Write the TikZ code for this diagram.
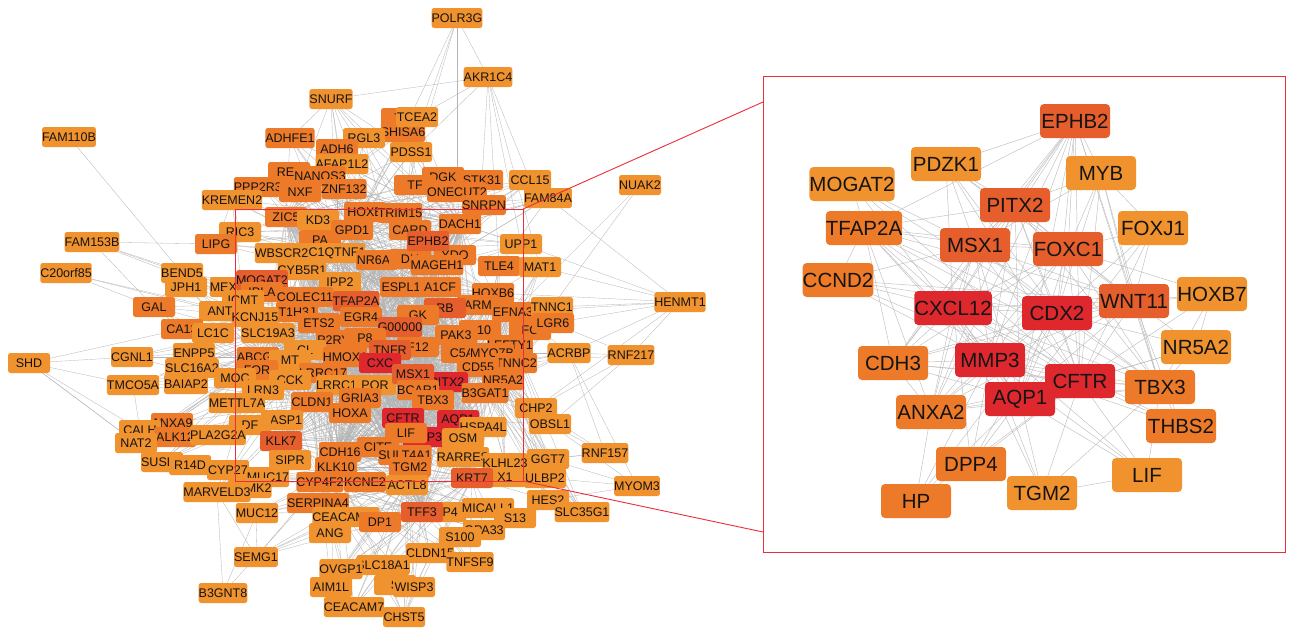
\documentclass[tikz,border=0pt]{standalone}
\usepackage{fontspec}
\setmainfont{Liberation Sans}
\pgfdeclarelayer{bg}
\pgfdeclarelayer{edges}
\pgfsetlayers{bg,edges,main}
\definecolor{oA}{RGB}{240,146,46}
\definecolor{oB}{RGB}{236,122,40}
\definecolor{oC}{RGB}{229,94,44}
\definecolor{oD}{RGB}{222,40,46}
\definecolor{edgegray}{RGB}{180,180,180}
\definecolor{zred}{RGB}{235,45,60}
\definecolor{txt}{RGB}{20,20,20}
\tikzset{
 lbox/.style={rounded corners=2.5pt, minimum width=42pt, minimum height=20pt, inner sep=0pt, text=txt, font=\fontsize{12.5}{13}\selectfont},
 nA/.style={lbox, fill=oA}, nB/.style={lbox, fill=oB}, nC/.style={lbox, fill=oC}, nD/.style={lbox, fill=oD},
 rbox/.style={rounded corners=4pt, minimum width=70pt, minimum height=34pt, inner sep=0pt, text=txt, font=\fontsize{20.5}{21}\selectfont},
 rA/.style={rbox, fill=oA}, rB/.style={rbox, fill=oB}, rC/.style={rbox, fill=oC}, rD/.style={rbox, fill=oD},
 ed/.style={draw=edgegray, line width=0.3pt},
 red2/.style={draw=edgegray!85, line width=0.45pt},
 zline/.style={draw=zred, line width=0.9pt},
 zframe/.style={minimum width=#1, inner sep=0pt}
}
\begin{document}
\begin{tikzpicture}[x=1pt,y=-1pt]
\useasboundingbox (0,0) rectangle (1289,630);
\begin{pgfonlayer}{bg}\fill[white] (0,0) rectangle (1289,630);\end{pgfonlayer}
% ---------------- left network nodes ----------------
\node[nA] (POLR3G) at (457,18) {POLR3G};
\node[nA] (AKR1C4) at (488,77) {AKR1C4};
\node[nA] (SNURF) at (331,99) {SNURF};
\node[nA] (FAM110B) at (69,137) {FAM110B};
\node[nB] (e1) at (402,118) {TF};
\node[nB] (SHISA6) at (403,132) {SHISA6};
\node[nA] (TCEA2) at (417,117) {TCEA2};
\node[nB] (ADHFE1) at (290,138) {ADHFE1};
\node[nA] (RGL3) at (364,138) {RGL3};
\node[nB] (ADH6) at (337,149) {ADH6};
\node[nA] (PDSS1) at (411,152) {PDSS1};
\node[nA] (AFAP1L2) at (342,164) {AFAP1L2};
\node[nB] (REL) at (289,172) {REL};
\node[nB] (NANOS3) at (320,176) {NANOS3};
\node[nB] (DGK) at (443,177) {DGK};
\node[nB] (STK31) at (482,180) {STK31};
\node[nA] (CCL15) at (530,180) {CCL15};
\node[nA] (NUAK2) at (640,185) {NUAK2};
\node[nB] (PPP2R3A) at (262,187) {PPP2R3A};
\node[nB] (TF) at (415,185) {TF};
\node[nB] (NXF) at (300,192) {NXF};
\node[nB] (ZNF132) at (344,189) {ZNF132};
\node[nB] (ONECUT2) at (457,192) {ONECUT2};
\node[nA] (KREMEN2) at (232,200) {KREMEN2};
\node[nB] (SNRPN) at (484,205) {SNRPN};
\node[nA] (FAM84A) at (548,198) {FAM84A};
\node[nB] (e2) at (365,212) {HOXB};
\node[nB] (TRIM15) at (400,213) {TRIM15};
\node[nB] (ZIC5) at (286,217) {ZIC5};
\node[nA] (e3) at (318,220) {KD3};
\node[nB] (DACH1) at (460,224) {DACH1};
\node[nA] (RIC3) at (240,232) {RIC3};
\node[nA] (FAM153B) at (92,242) {FAM153B};
\node[nB] (LIPG) at (216,244) {LIPG};
\node[nA] (UPP1) at (521,244) {UPP1};
\node[nB] (e4) at (320,240) {PA};
\node[nB] (GPD1) at (352,230) {GPD1};
\node[nB] (CARD) at (410,230) {CARD};
\node[nA] (WBSCR22) at (285,253) {WBSCR22};
\node[nA] (C1QTNF1) at (337,253) {C1QTNF1};
\node[nB] (e5) at (455,255) {YDO};
\node[nB] (NR6A1) at (377,260) {NR6A1};
\node[nB] (e6) at (410,259) {DH};
\node[nB] (MAGEH1) at (437,265) {MAGEH1};
\node[nB] (TLE4) at (499,266) {TLE4};
\node[nA] (MAT1) at (540,267) {MAT1};
\node[nA] (CYB5R1) at (302,270) {CYB5R1};
\node[nA] (C20orf85) at (66,273) {C20orf85};
\node[nA] (BEND5) at (182,273) {BEND5};
\node[nA] (JPH1) at (186,287) {JPH1};
\node[nA] (MEX3A) at (231,287) {MEX3A};
\node[nC] (MOGAT2) at (262,280) {MOGAT2};
\node[nA] (e7) at (340,282) {IPP2};
\node[nB] (ESPL1) at (401,287) {ESPL1};
\node[nB] (A1CF) at (440,287) {A1CF};
\node[nB] (e8) at (262,292) {IPLA};
\node[nB] (HOXB6) at (493,293) {HOXB6};
\node[nB] (COLEC11) at (305,297) {COLEC11};
\node[nA] (ICMT) at (243,300) {ICMT};
\node[nC] (TFAP2A) at (356,301) {TFAP2A};
\node[nB] (e9) at (478,305) {ARM};
\node[nC] (e10) at (445,308) {RB};
\node[nA] (HENMT1) at (680,302) {HENMT1};
\node[nB] (EFNA3) at (513,312) {EFNA3};
\node[nA] (TNNC1) at (552,307) {TNNC1};
\node[nB] (GAL) at (154,307) {GAL};
\node[nA] (ANT) at (220,311) {ANT};
\node[nB] (e11) at (297,312) {T1H3J};
\node[nB] (GK) at (418,315) {GK};
\node[nB] (EGR4) at (361,317) {EGR4};
\node[nA] (KCNJ15) at (255,317) {KCNJ15};
\node[nB] (e12) at (530,330) {FC};
\node[nB] (ETS2) at (319,323) {ETS2};
\node[nC] (e13) at (400,327) {G00000};
\node[nB] (LGR6) at (553,323) {LGR6};
\node[nB] (CA13) at (182,329) {CA13};
\node[nA] (e14) at (213,333) {LC1C};
\node[nB] (e15) at (480,330) {A10};
\node[nA] (SLC19A3) at (268,333) {SLC19A3};
\node[nB] (PAK3) at (456,335) {PAK3};
\node[nB] (P2RY2) at (337,340) {P2RY2};
\node[nB] (P8) at (365,338) {P8};
\node[nB] (LEFTY1) at (510,345) {LEFTY1};
\node[nB] (F12) at (418,347) {F12};
\node[nC] (e16) at (390,350) {TNFR};
\node[nA] (e17) at (305,350) {CL};
\node[nA] (ENPP5) at (194,353) {ENPP5};
\node[nB] (e18) at (462,353) {C5A};
\node[nB] (MYO7B) at (492,353) {MYO7B};
\node[nA] (ACRBP) at (569,353) {ACRBP};
\node[nA] (RNF217) at (631,355) {RNF217};
\node[nB] (ABCG5) at (258,357) {ABCG5};
\node[nB] (HMOX1) at (345,357) {HMOX1};
\node[nA] (CGNL1) at (132,357) {CGNL1};
\node[nA] (e19) at (290,360) {MT};
\node[nA] (SHD) at (29,363) {SHD};
\node[nD] (e20) at (380,363) {CXC};
\node[nB] (TNNC2) at (516,363) {TNNC2};
\node[nB] (CD55) at (478,367) {CD55};
\node[nA] (BAIAP2) at (186,384) {BAIAP2};
\node[nA] (SLC16A2) at (192,368) {SLC16A2};
\node[nD] (PITX2) at (447,382) {PITX2};
\node[nB] (e21) at (257,370) {FOR};
\node[nB] (LRRC17) at (323,373) {LRRC17};
\node[nA] (e22) at (235,378) {MOC};
\node[nA] (e23) at (290,380) {CCK};
\node[nB] (NR5A2) at (503,380) {NR5A2};
\node[nA] (TMCO5A) at (133,385) {TMCO5A};
\node[nA] (LRRC19) at (340,385) {LRRC19};
\node[nA] (POR) at (375,385) {POR};
\node[nC] (MSX1) at (413,374) {MSX1};
\node[nB] (BCAR1) at (418,390) {BCAR1};
\node[nA] (e24) at (263,390) {LRN3};
\node[nB] (B3GAT1) at (485,393) {B3GAT1};
\node[nB] (GRIA3) at (360,398) {GRIA3};
\node[nB] (TBX3) at (433,400) {TBX3};
\node[nB] (CLDN1) at (312,402) {CLDN1};
\node[nA] (METTL7A) at (237,403) {METTL7A};
\node[nB] (e25) at (350,413) {HOXA};
\node[nD] (CFTR) at (403,418) {CFTR};
\node[nD] (AQP1) at (458,420) {AQP1};
\node[nD] (MMP3) at (424,437) {MMP3};
\node[nA] (CHP2) at (536,408) {CHP2};
\node[nA] (BASP1) at (282,420) {BASP1};
\node[nB] (ANXA9) at (172,423) {ANXA9};
\node[nA] (OBSL1) at (550,424) {OBSL1};
\node[nA] (HSPA4L) at (483,427) {HSPA4L};
\node[nA] (e26) at (250,425) {DF};
\node[nA] (CALH) at (140,430) {CALH};
\node[nB] (e27) at (175,437) {ALK12};
\node[nA] (PLA2G2A) at (218,435) {PLA2G2A};
\node[nB] (LIF) at (406,433) {LIF};
\node[nA] (OSM) at (463,438) {OSM};
\node[nA] (NAT2) at (136,443) {NAT2};
\node[nC] (KLK7) at (281,441) {KLK7};
\node[nB] (e28) at (378,447) {CITE};
\node[nB] (CDH16) at (340,452) {CDH16};
\node[nB] (SULT4A1) at (405,455) {SULT4A1};
\node[nA] (RARRES) at (463,457) {RARRES};
\node[nA] (SUSD4) at (162,462) {SUSD4};
\node[nA] (RNF157) at (605,453) {RNF157};
\node[nA] (GGT7) at (548,459) {GGT7};
\node[nA] (KLHL23) at (505,463) {KLHL23};
\node[nA] (e29) at (290,460) {SIPR};
\node[nA] (e30) at (190,465) {R14D};
\node[nA] (e31) at (228,470) {CYP27};
\node[nB] (TGM2) at (410,467) {TGM2};
\node[nB] (KLK10) at (336,467) {KLK10};
\node[nA] (MUC17) at (268,477) {MUC17};
\node[nA] (e32) at (505,477) {X1};
\node[nA] (ULBP2) at (545,478) {ULBP2};
\node[nC] (KRT7) at (472,478) {KRT7};
\node[nA] (MYOM3) at (637,486) {MYOM3};
\node[nA] (e33) at (250,488) {CAMK2};
\node[nA] (MARVELD3) at (217,492) {MARVELD3};
\node[nB] (CYP4F2) at (320,482) {CYP4F2};
\node[nB] (KCNE2) at (365,482) {KCNE2};
\node[nA] (ACTL8) at (407,485) {ACTL8};
\node[nA] (HES2) at (548,500) {HES2};
\node[nB] (SERPINA4) at (318,503) {SERPINA4};
\node[nA] (MUC12) at (257,513) {MUC12};
\node[nA] (e34) at (445,512) {MP4};
\node[nA] (MICALL1) at (488,508) {MICALL1};
\node[nA] (SLC35G1) at (582,512) {SLC35G1};
\node[nA] (e35) at (515,518) {S13};
\node[nC] (TFF3) at (422,512) {TFF3};
\node[nA] (CEACAM20) at (346,517) {CEACAM20};
\node[nB] (e36) at (380,522) {DP1};
\node[nA] (e37) at (330,533) {ANG};
\node[nA] (GPA33) at (484,530) {GPA33};
\node[nA] (e38) at (460,537) {S100};
\node[nA] (CLDN15) at (430,553) {CLDN15};
\node[nA] (SEMG1) at (256,557) {SEMG1};
\node[nA] (TNFSF9) at (470,562) {TNFSF9};
\node[nA] (SLC18A1) at (383,565) {SLC18A1};
\node[nA] (OVGP1) at (341,569) {OVGP1};
\node[nA] (AIM1L) at (331,587) {AIM1L};
\node[nA] (e39) at (395,585) {S};
\node[nA] (WISP3) at (414,587) {WISP3};
\node[nA] (B3GNT8) at (223,593) {B3GNT8};
\node[nA] (CEACAM7) at (354,607) {CEACAM7};
\node[nA] (CHST5) at (404,617) {CHST5};
\node[nC] (EPHB2) at (428,241) {EPHB2};
% ---------------- left edges ----------------
\begin{pgfonlayer}{edges}
\def\corelist{EPHB2,TFAP2A,MSX1,CFTR,AQP1,PITX2,MMP3,LIF,TGM2,TBX3,GK,F12,HMOX1,CLDN1,KLK7,TFF3,KRT7,DACH1,GPD1,A1CF,MAGEH1,ZIC5,ESPL1,NR6A1,BCAR1,HOXB6,NR5A2,MYO7B,CD55,EGR4,ETS2,GRIA3,LRRC17,P2RY2,SULT4A1,KLK10,CYP4F2,ACTL8,OSM,HSPA4L,C1QTNF1,CYB5R1,COLEC11,ABCG5,SLC19A3,e13,e20,e16,PAK3,CDH16}
\foreach \a [count=\i] in \corelist {\foreach \b [count=\j] in \corelist {\ifnum\i<\j \draw[ed] (\a) -- (\b);\fi}}
\foreach \a in {SNURF,ADHFE1,RGL3,ADH6,PDSS1,AFAP1L2,REL,NANOS3,DGK,STK31,PPP2R3A,TF,NXF,ZNF132,ONECUT2,SNRPN,TCEA2,SHISA6,KREMEN2,CCL15,FAM84A,TRIM15,RIC3,LIPG,UPP1}
  {\foreach \b in {GPD1,DACH1,ESPL1,ZIC5,C1QTNF1,MAGEH1} {\draw[ed] (\a) -- (\b);}}
\foreach \a in {BEND5,JPH1,MEX3A,GAL,ICMT,KCNJ15,CA13,ENPP5,CGNL1,SLC16A2,BAIAP2,TMCO5A,METTL7A,ANXA9,PLA2G2A,NAT2,SUSD4,MARVELD3,WBSCR22,MOGAT2}
  {\foreach \b in {HMOX1,CLDN1,TFAP2A,ETS2,ABCG5} {\draw[ed] (\a) -- (\b);}}
\foreach \a in {TNNC1,LGR6,LEFTY1,MAT1,ACRBP,TNNC2,CHP2,OBSL1,GGT7,KLHL23,ULBP2,HES2,SLC35G1,TLE4,EFNA3}
  {\foreach \b in {HOXB6,CD55,B3GAT1,NR5A2,MYO7B} {\draw[ed] (\a) -- (\b);}}
\foreach \a in {MUC17,MUC12,SEMG1,SERPINA4,CEACAM20,GPA33,MICALL1,CLDN15,TNFSF9,SLC18A1,OVGP1,AIM1L,WISP3,CEACAM7,CHST5}
  {\foreach \b in {TFF3,KRT7,TGM2,KLK10,CYP4F2,ACTL8} {\draw[ed] (\a) -- (\b);}}
\foreach \a/\b in {POLR3G/AKR1C4,POLR3G/TRIM15,POLR3G/PDSS1,POLR3G/ONECUT2,POLR3G/SHISA6,AKR1C4/UPP1,AKR1C4/TLE4,AKR1C4/CCL15,AKR1C4/STK31,AKR1C4/MAT1,AKR1C4/TCEA2,AKR1C4/PDSS1,SNURF/RGL3,SNURF/ADHFE1,SNURF/PDSS1,SNURF/ZNF132,SNURF/AKR1C4,FAM110B/BEND5,FAM153B/LIPG,FAM153B/GAL,FAM153B/MEX3A,FAM153B/ICMT,FAM153B/BEND5,C20orf85/GAL,C20orf85/ANT,C20orf85/KCNJ15,SHD/CA13,SHD/TMCO5A,SHD/NAT2,SHD/SUSD4,SHD/CGNL1,SHD/CALH,NUAK2/EFNA3,NUAK2/TNNC1,HENMT1/TNNC1,HENMT1/LGR6,HENMT1/MAT1,HENMT1/FAM84A,HENMT1/UPP1,HENMT1/ACRBP,HENMT1/HOXB6,HENMT1/EFNA3,HENMT1/CHP2,HENMT1/RNF217,RNF217/ACRBP,RNF217/LGR6,RNF217/CHP2,RNF217/TNNC2,RNF217/OBSL1,RNF157/ACRBP,RNF157/CHP2,RNF157/OBSL1,RNF157/KLHL23,RNF157/GGT7,MYOM3/HES2,MYOM3/OBSL1,MYOM3/GGT7,MYOM3/ULBP2,MYOM3/ACRBP,KREMEN2/PPP2R3A,KREMEN2/LIPG,KREMEN2/RIC3,KREMEN2/ICMT,B3GNT8/SEMG1,B3GNT8/MARVELD3,B3GNT8/MUC12,SEMG1/MUC12,SEMG1/MARVELD3,SEMG1/CEACAM20,CEACAM7/AIM1L,CEACAM7/OVGP1,CEACAM7/SLC18A1,CEACAM7/CHST5,CHST5/WISP3,CHST5/SLC18A1,CHST5/CLDN15,CCL15/EPHB2,FAM84A/TLE4,FAM84A/DACH1,CALH/ANXA9,CALH/TMCO5A,NAT2/ANXA9,SUSD4/PLA2G2A,GAL/BEND5,GAL/CA13,CGNL1/ENPP5,TMCO5A/BAIAP2,MARVELD3/MUC17,HES2/KRT7,SLC35G1/ULBP2,GGT7/KRT7,OBSL1/AQP1,CHP2/PITX2,ACRBP/TNNC2,TNNC1/EFNA3,UPP1/DACH1}
  {\draw[ed] (\a) -- (\b);}
\end{pgfonlayer}
% zoom frames
\coordinate (zsrcNW) at (235,209);
\coordinate (zsrcNE) at (523,209);
\coordinate (zsrcSE) at (523,481);
\coordinate (zsrcSW) at (235,481);
\draw[zline] (zsrcNW) -- (zsrcNE) -- (zsrcSE) -- (zsrcSW) -- cycle;
\node[draw=zred, line width=0.9pt, minimum width=522pt, minimum height=476pt, inner sep=0pt] (zdst) at (1024,314) {};
\coordinate (zt) at (763,102);
\coordinate (zb) at (763,532);
\draw[zline] (zsrcNE) -- (zt);
\draw[zline] (zsrcSE) -- (zb);
% ---------------- right panel nodes ----------------
\node[rC] (rEPHB2) at (1075,121) {EPHB2};
\node[rA] (rPDZK1) at (946,164) {PDZK1};
\node[rA] (rMYB) at (1101,173) {MYB};
\node[rA] (rMOGAT2) at (852,184) {MOGAT2};
\node[rC] (rPITX2) at (1015,205) {PITX2};
\node[rB] (rTFAP2A) at (864,228) {TFAP2A};
\node[rA] (rFOXJ1) at (1153,228) {FOXJ1};
\node[rC] (rMSX1) at (975,245) {MSX1};
\node[rC] (rFOXC1) at (1068,249) {FOXC1};
\node[rB] (rCCND2) at (838,280) {CCND2};
\node[rC] (rWNT11) at (1134,301) {WNT11};
\node[rA] (rHOXB7) at (1212,294) {HOXB7};
\node[rD] (rCXCL12) at (953,308) {CXCL12};
\node[rD] (rCDX2) at (1057,313) {CDX2};
\node[rA] (rNR5A2) at (1196,347) {NR5A2};
\node[rB] (rCDH3) at (893,363) {CDH3};
\node[rD] (rMMP3) at (990,360) {MMP3};
\node[rD] (rCFTR) at (1080,381) {CFTR};
\node[rB] (rTBX3) at (1160,387) {TBX3};
\node[rD] (rAQP1) at (1020,399) {AQP1};
\node[rB] (rANXA2) at (931,412) {ANXA2};
\node[rB] (rTHBS2) at (1181,426) {THBS2};
\node[rB] (rDPP4) at (971,464) {DPP4};
\node[rA] (rLIF) at (1147,475) {LIF};
\node[rB] (rHP) at (916,501) {HP};
\node[rA] (rTGM2) at (1042,493) {TGM2};
\begin{pgfonlayer}{edges}
\def\rhubs{rCFTR,rAQP1,rCDX2,rCXCL12,rMMP3,rMSX1,rFOXC1,rPITX2,rWNT11,rEPHB2,rTBX3,rANXA2,rCDH3,rTFAP2A}
\foreach \a [count=\i] in \rhubs {\foreach \b [count=\j] in \rhubs {\ifnum\i<\j \draw[red2] (\a) -- (\b);\fi}}
\foreach \a/\l in {rPDZK1/{rPITX2,rMSX1,rFOXC1,rCDX2,rCFTR,rEPHB2,rWNT11,rCXCL12},
  rMYB/{rEPHB2,rPITX2,rFOXC1,rCDX2,rCFTR,rWNT11,rTBX3,rMSX1},
  rMOGAT2/{rCFTR,rCDX2,rMSX1,rTFAP2A,rAQP1},
  rFOXJ1/{rCFTR,rFOXC1,rCDX2,rWNT11,rMYB,rAQP1},
  rCCND2/{rCXCL12,rCDX2,rCFTR,rMSX1,rWNT11,rMMP3,rTFAP2A},
  rHOXB7/{rCDX2,rWNT11,rCFTR,rFOXC1,rTBX3,rNR5A2},
  rNR5A2/{rCDX2,rCFTR,rWNT11,rTBX3,rAQP1},
  rTHBS2/{rMMP3,rCFTR,rTBX3,rCXCL12,rWNT11},
  rDPP4/{rCFTR,rAQP1,rMMP3,rCXCL12,rCDX2},
  rLIF/{rCXCL12,rCFTR,rTBX3,rMMP3,rAQP1,rTGM2},
  rHP/{rAQP1,rMMP3,rCFTR,rANXA2,rCDX2},
  rTGM2/{rCFTR,rAQP1,rMMP3,rTBX3,rCXCL12}}
  {\foreach \b in \l {\draw[red2] (\a) -- (\b);}}
\end{pgfonlayer}
\end{tikzpicture}
\end{document}
